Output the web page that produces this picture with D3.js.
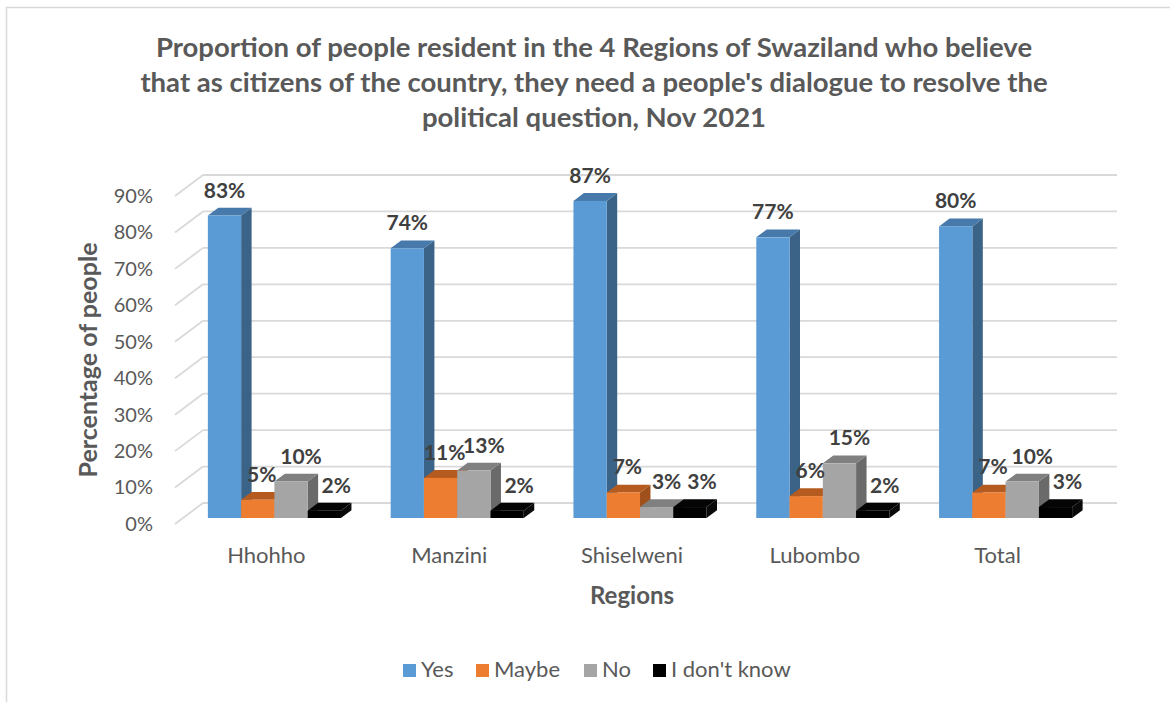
<!DOCTYPE html>
<html>
<head>
<meta charset="utf-8">
<script src="https://cdn.jsdelivr.net/npm/d3@7"></script>
<style>
  html, body { margin: 0; padding: 0; background: #fff; }
  svg { display: block; font-family: Lato, "Open Sans", sans-serif; }
</style>
</head>
<body>
<svg id="chart" width="1170" height="702"></svg>
<script>
// Survey results, Nov 2021 (share of respondents per answer)
const regions = ["Hhohho", "Manzini", "Shiselweni", "Lubombo", "Total"];
const answers = ["Yes", "Maybe", "No", "I don't know"];
const yesValues   = [0.83, 0.74, 0.87, 0.77, 0.80];
const maybeValues = [0.05, 0.11, 0.07, 0.06, 0.07];
const noValues    = [0.10, 0.13, 0.03, 0.15, 0.10];
const dkValues    = [0.02, 0.02, 0.03, 0.02, 0.03];
const yTicks = [0, 0.1, 0.2, 0.3, 0.4, 0.5, 0.6, 0.7, 0.8, 0.9];
const titleLines = [
  "Proportion of people resident in the 4 Regions of Swaziland who believe",
  "that as citizens of the country, they need a people's dialogue to resolve the",
  "political question, Nov 2021"
];

const seriesValues = [yesValues, maybeValues, noValues, dkValues];

// face colours per answer: front, top, side
const palette = {
  "Yes":          { front: "#5B9BD5", top: "#4779AA", side: "#3A6387" },
  "Maybe":        { front: "#ED7D31", top: "#B55B1F", side: "#A0501B" },
  "No":           { front: "#A5A5A5", top: "#808080", side: "#6A6A6A" },
  "I don't know": { front: "#000000", top: "#050505", side: "#0A0A0A" }
};
// horizontal nudge of each answer's value label, in px
const labelShift = { "Yes": 0, "Maybe": 4, "No": 10, "I don't know": 12 };

const svg = d3.select("#chart");

// outer frame
svg.append("rect")
  .attr("x", 6.5).attr("y", 7.5)
  .attr("width", 1200).attr("height", 720)
  .attr("fill", "none").attr("stroke", "#D9D9D9").attr("stroke-width", 1.5);

// title
const title = svg.append("text")
  .attr("text-anchor", "middle")
  .attr("fill", "#595959")
  .attr("font-weight", "bold")
  .attr("font-size", 27.5);
titleLines.forEach((line, i) => {
  title.append("tspan").attr("x", 594).attr("y", 57 + i * 35).text(line);
});

// 3D geometry: front plane of the plot, plus depth vector to the back wall
const plotLeft = 175, plotRight = 1089;
const depthX = 28, depthY = -21;
const barD0 = 0.286, barD1 = 0.66;

const x = d3.scaleBand().domain(regions).range([plotLeft, plotRight])
  .paddingInner(0.272).paddingOuter(0.136);
const xs = d3.scaleBand().domain(answers).range([0, x.bandwidth()]);
const y = d3.scaleLinear().domain([0, 0.9]).range([524, 196]);

// back wall gridlines and left wall diagonals
const grid = svg.append("g").attr("stroke", "#D9D9D9").attr("stroke-width", 1.8).attr("fill", "none");
yTicks.forEach(t => {
  grid.append("line")
    .attr("x1", plotLeft + depthX).attr("x2", plotRight + depthX)
    .attr("y1", y(t) + depthY).attr("y2", y(t) + depthY);
  grid.append("line")
    .attr("x1", plotLeft).attr("y1", y(t))
    .attr("x2", plotLeft + depthX).attr("y2", y(t) + depthY);
});

// y axis labels
const yAxis = d3.axisLeft(y).tickValues(yTicks).tickFormat(d3.format(".0%")).tickSize(0).tickPadding(0);
svg.append("g")
  .attr("transform", `translate(153,0)`)
  .call(yAxis)
  .call(g => g.select(".domain").remove())
  .call(g => g.selectAll("text")
    .attr("font-family", "Lato, sans-serif")
    .attr("font-size", 20)
    .attr("fill", "#595959"));

// bars, drawn left to right so each bar covers the hidden side of its neighbour
const bars = svg.append("g");
const fx = x0 => x0 + depthX * barD0;
const fy = y0 => y0 + depthY * barD0;
const dx = depthX * (barD1 - barD0), dy = depthY * (barD1 - barD0);

regions.forEach((region, ri) => {
  answers.forEach((answer, si) => {
    const v = seriesValues[si][ri];
    const c = palette[answer];
    const x0 = fx(x(region) + xs(answer));
    const x1 = x0 + xs.bandwidth();
    const yb = fy(y(0));
    const yt = fy(y(v));
    const g = bars.append("g");
    // side face
    g.append("path")
      .attr("d", `M${x1},${yb} L${x1 + dx},${yb + dy} L${x1 + dx},${yt + dy} L${x1},${yt} Z`)
      .attr("fill", c.side);
    // top face
    g.append("path")
      .attr("d", `M${x0},${yt} L${x0 + dx},${yt + dy} L${x1 + dx},${yt + dy} L${x1},${yt} Z`)
      .attr("fill", c.top);
    // front face
    g.append("rect")
      .attr("x", x0).attr("y", yt)
      .attr("width", xs.bandwidth()).attr("height", yb - yt)
      .attr("fill", c.front);
  });
});

// data labels
const labels = svg.append("g")
  .attr("text-anchor", "middle")
  .attr("font-weight", "bold")
  .attr("font-size", 21)
  .attr("fill", "#404040");
regions.forEach((region, ri) => {
  answers.forEach((answer, si) => {
    const v = seriesValues[si][ri];
    const cx = fx(x(region) + xs(answer)) + xs.bandwidth() / 2 + labelShift[answer];
    labels.append("text")
      .attr("x", cx)
      .attr("y", fy(y(v)) - 18)
      .text(d3.format(".0%")(v));
  });
});

// category labels
svg.append("g")
  .attr("text-anchor", "middle")
  .attr("font-size", 22)
  .attr("fill", "#595959")
  .selectAll("text").data(regions).join("text")
  .attr("x", d => x(d) + x.bandwidth() / 2)
  .attr("y", 563)
  .text(d => d);

// axis titles
svg.append("text")
  .attr("x", (plotLeft + plotRight) / 2).attr("y", 604)
  .attr("text-anchor", "middle")
  .attr("font-weight", "bold").attr("font-size", 24)
  .attr("fill", "#595959")
  .text("Regions");

svg.append("text")
  .attr("transform", "translate(97,360) rotate(-90)")
  .attr("text-anchor", "middle")
  .attr("font-weight", "bold").attr("font-size", 25)
  .attr("fill", "#595959")
  .text("Percentage of people");

// legend
const legendX = [403, 476, 584, 653];
const legend = svg.append("g");
answers.forEach((answer, i) => {
  legend.append("rect")
    .attr("x", legendX[i]).attr("y", 664)
    .attr("width", 13).attr("height", 13)
    .attr("fill", palette[answer].front);
  legend.append("text")
    .attr("x", legendX[i] + 18).attr("y", 677)
    .attr("font-size", 22).attr("fill", "#595959")
    .text(answer);
});
</script>
</body>
</html>
